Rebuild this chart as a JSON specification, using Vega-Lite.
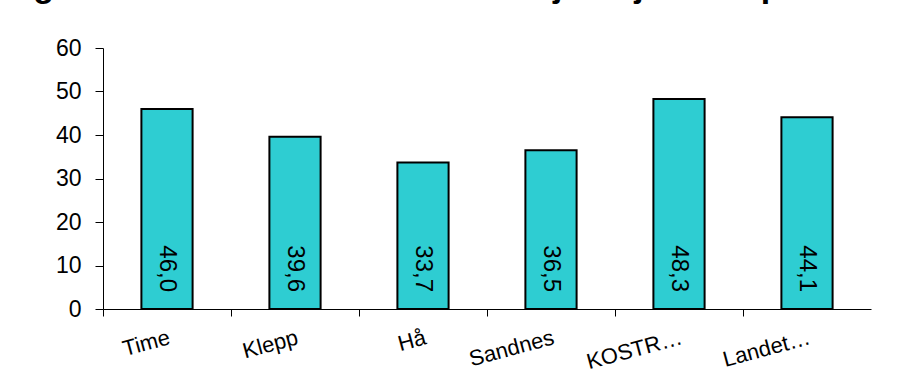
{
  "$schema": "https://vega.github.io/schema/vega-lite/v6.json",
  "autosize": {"type": "none"},
  "padding": {"left": 103, "top": 48, "right": 36, "bottom": 70},
  "width": 768,
  "height": 261,
  "background": "white",
  "title": {
    "text": "Figur 1.8 Årsverk i alt til helsestasjonstjeneste per 10 000 barn 0-5 år",
    "anchor": "start",
    "frame": "group",
    "dx": -100,
    "offset": 6,
    "baseline": "alphabetic",
    "font": "Liberation Sans",
    "fontSize": 34,
    "fontWeight": "bold",
    "color": "#000000"
  },
  "data": {
    "values": [
      {"omrade": "Time", "verdi": 46.0, "etikett": "46,0"},
      {"omrade": "Klepp", "verdi": 39.6, "etikett": "39,6"},
      {"omrade": "Hå", "verdi": 33.7, "etikett": "33,7"},
      {"omrade": "Sandnes", "verdi": 36.5, "etikett": "36,5"},
      {"omrade": "KOSTR…", "verdi": 48.3, "etikett": "48,3"},
      {"omrade": "Landet…", "verdi": 44.1, "etikett": "44,1"}
    ]
  },
  "encoding": {
    "x": {
      "field": "omrade",
      "type": "nominal",
      "sort": null,
      "scale": {"paddingInner": 0, "paddingOuter": 0},
      "axis": {
        "title": null,
        "bandPosition": 0,
        "labelAngle": -15,
        "labelAlign": "right",
        "labelBaseline": "top",
        "labelPadding": 11,
        "labelFont": "Liberation Sans",
        "labelFontSize": 22,
        "labelColor": "#000000",
        "tickSize": 7,
        "tickColor": "#000000",
        "domainColor": "#000000",
        "grid": false
      }
    },
    "y": {
      "field": "verdi",
      "type": "quantitative",
      "scale": {"domain": [0, 60], "nice": false},
      "axis": {
        "title": null,
        "values": [0, 10, 20, 30, 40, 50, 60],
        "tickSize": 8,
        "labelPadding": 14,
        "labelFont": "Liberation Sans",
        "labelFontSize": 23,
        "labelColor": "#000000",
        "tickColor": "#000000",
        "domainColor": "#000000",
        "grid": false
      }
    }
  },
  "layer": [
    {
      "mark": {
        "type": "bar",
        "width": {"band": 0.4},
        "color": "#2ECDD2",
        "stroke": "#000000",
        "strokeWidth": 2
      }
    },
    {
      "mark": {
        "type": "text",
        "angle": 90,
        "align": "right",
        "baseline": "middle",
        "dx": -17,
        "font": "Liberation Sans",
        "fontSize": 24,
        "color": "#000000"
      },
      "encoding": {
        "y": {"datum": 0},
        "text": {"field": "etikett"}
      }
    }
  ],
  "config": {"view": {"stroke": null}}
}
